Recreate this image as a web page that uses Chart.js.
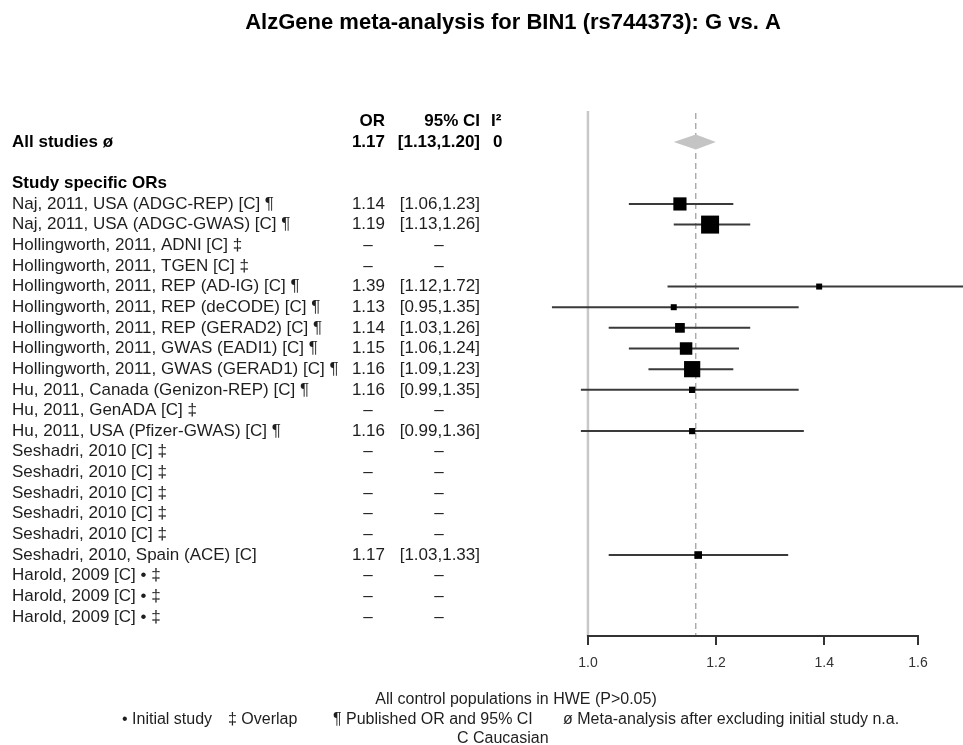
<!DOCTYPE html>
<html><head><meta charset="utf-8">
<script src="https://cdn.jsdelivr.net/npm/chart.js@4.4.1/dist/chart.umd.min.js"></script>
<style>html,body{margin:0;padding:0;background:#fff;} #c{display:block;}</style>
</head><body>
<canvas id="c" width="963" height="745"></canvas>
<script>
const chartTitle = "AlzGene meta-analysis for BIN1 (rs744373): G vs. A";
const studies = [
  "Naj, 2011, USA (ADGC-REP) [C] ¶",
  "Naj, 2011, USA (ADGC-GWAS) [C] ¶",
  "Hollingworth, 2011, ADNI [C] ‡",
  "Hollingworth, 2011, TGEN [C] ‡",
  "Hollingworth, 2011, REP (AD-IG) [C] ¶",
  "Hollingworth, 2011, REP (deCODE) [C] ¶",
  "Hollingworth, 2011, REP (GERAD2) [C] ¶",
  "Hollingworth, 2011, GWAS (EADI1) [C] ¶",
  "Hollingworth, 2011, GWAS (GERAD1) [C] ¶",
  "Hu, 2011, Canada (Genizon-REP) [C] ¶",
  "Hu, 2011, GenADA [C] ‡",
  "Hu, 2011, USA (Pfizer-GWAS) [C] ¶",
  "Seshadri, 2010 [C] ‡",
  "Seshadri, 2010 [C] ‡",
  "Seshadri, 2010 [C] ‡",
  "Seshadri, 2010 [C] ‡",
  "Seshadri, 2010 [C] ‡",
  "Seshadri, 2010, Spain (ACE) [C]",
  "Harold, 2009 [C] • ‡",
  "Harold, 2009 [C] • ‡",
  "Harold, 2009 [C] • ‡"
];
const orValues = [1.14, 1.19, null, null, 1.39, 1.13, 1.14, 1.15, 1.16, 1.16, null, 1.16, null, null, null, null, null, 1.17, null, null, null];
const ciLower  = [1.06, 1.13, null, null, 1.12, 0.95, 1.03, 1.06, 1.09, 0.99, null, 0.99, null, null, null, null, null, 1.03, null, null, null];
const ciUpper  = [1.23, 1.26, null, null, 1.72, 1.35, 1.26, 1.24, 1.23, 1.35, null, 1.36, null, null, null, null, null, 1.33, null, null, null];
const pooledLabel = "All studies ø";
const pooledOR = 1.166;
const pooledLower = 1.13;
const pooledUpper = 1.20;
const pooledI2 = "0";
const subheading = "Study specific ORs";
const columnHeaders = ["OR", "95% CI", "I²"];
const tickValues = [1.0, 1.2, 1.4, 1.6];
const tickLabels = ["1.0", "1.2", "1.4", "1.6"];
const footLine1 = "All control populations in HWE (P>0.05)";
const footLine2 = ["• Initial study", "‡ Overlap", "¶ Published OR and 95% CI", "ø Meta-analysis after excluding initial study n.a."];
const footLine3 = "C Caucasian";

// row indices on the y scale
const headerRow = -4, pooledRow = -3, subheadRow = -1;
const FONT = '"Liberation Sans", Arial, Helvetica, sans-serif';

function boxSide(lo, hi) {
  const se = (Math.log(hi) - Math.log(lo)) / 3.92;
  const w = 1 / (se * se);
  return Math.max(6, 0.5 * Math.sqrt(w));
}

const ciDatasets = [];
const pointData = [];
studies.forEach((s, i) => {
  if (orValues[i] == null) return;
  ciDatasets.push({
    label: s,
    data: [{x: ciLower[i], y: i}, {x: ciUpper[i], y: i}],
    showLine: true,
    borderColor: '#3a3a3a',
    borderWidth: 2,
    pointRadius: 0,
    order: 2
  });
  pointData.push({x: orValues[i], y: i, lo: ciLower[i], hi: ciUpper[i]});
});

const forestPlugin = {
  id: 'forest',
  beforeDatasetsDraw(chart) {
    const {ctx, chartArea, scales: {x}} = chart;
    ctx.save();
    // null line at OR = 1
    const x1 = x.getPixelForValue(1.0);
    ctx.strokeStyle = '#c8c8c8';
    ctx.lineWidth = 2.5;
    ctx.beginPath(); ctx.moveTo(x1, chartArea.top); ctx.lineTo(x1, chartArea.bottom); ctx.stroke();
    // dashed pooled line
    const xp = x.getPixelForValue(pooledOR);
    ctx.strokeStyle = '#9a9a9a';
    ctx.lineWidth = 1.2;
    ctx.setLineDash([6, 4]);
    ctx.beginPath(); ctx.moveTo(xp, chartArea.top + 2); ctx.lineTo(xp, chartArea.bottom); ctx.stroke();
    ctx.setLineDash([]);
    // pooled diamond
    const y = chart.scales.y.getPixelForValue(pooledRow);
    const xl = x.getPixelForValue(pooledLower), xr = x.getPixelForValue(pooledUpper);
    ctx.fillStyle = '#c4c4c4';
    ctx.beginPath();
    ctx.moveTo(xl, y); ctx.lineTo(xp, y - 7.5); ctx.lineTo(xr, y); ctx.lineTo(xp, y + 7.5); ctx.closePath();
    ctx.fill();
    // axis line from first to last tick
    ctx.strokeStyle = '#333';
    ctx.lineWidth = 2;
    ctx.beginPath();
    ctx.moveTo(x.getPixelForValue(tickValues[0]) - 1, chartArea.bottom);
    ctx.lineTo(x.getPixelForValue(tickValues[tickValues.length - 1]) + 1, chartArea.bottom);
    ctx.stroke();
    ctx.restore();
  },
  afterDraw(chart) {
    const {ctx, scales: {y}} = chart;
    ctx.save();
    ctx.textBaseline = 'middle';
    // title
    ctx.fillStyle = '#000';
    ctx.font = 'bold 22px ' + FONT;
    ctx.textAlign = 'center';
    ctx.fillText(chartTitle, 513, 23);
    // column headers
    ctx.font = 'bold 17px ' + FONT;
    let yy = y.getPixelForValue(headerRow);
    ctx.textAlign = 'right';
    ctx.fillText(columnHeaders[0], 385, yy);
    ctx.fillText(columnHeaders[1], 480, yy);
    ctx.textAlign = 'left';
    ctx.fillText(columnHeaders[2], 491, yy);
    // pooled row
    yy = y.getPixelForValue(pooledRow);
    ctx.fillText(pooledLabel, 12, yy);
    ctx.textAlign = 'right';
    ctx.fillText(pooledOR.toFixed(2), 385, yy);
    ctx.fillText('[' + pooledLower.toFixed(2) + ',' + pooledUpper.toFixed(2) + ']', 480, yy);
    ctx.textAlign = 'left';
    ctx.fillText(pooledI2, 493, yy);
    // subheading
    ctx.fillText(subheading, 12, y.getPixelForValue(subheadRow));
    // studies
    ctx.font = '17px ' + FONT;
    ctx.fillStyle = '#1e1e1e';
    studies.forEach((s, i) => {
      const py = y.getPixelForValue(i);
      ctx.textAlign = 'left';
      ctx.fillText(s, 12, py);
      if (orValues[i] != null) {
        ctx.textAlign = 'right';
        ctx.fillText(orValues[i].toFixed(2), 385, py);
        ctx.fillText('[' + ciLower[i].toFixed(2) + ',' + ciUpper[i].toFixed(2) + ']', 480, py);
      } else {
        ctx.textAlign = 'center';
        ctx.fillText('–', 368, py);
        ctx.fillText('–', 439, py);
      }
    });
    // footnotes
    ctx.font = '16px ' + FONT;
    ctx.fillStyle = '#1e1e1e';
    ctx.textAlign = 'center';
    ctx.fillText(footLine1, 516, 700);
    ctx.textAlign = 'left';
    const fx = [122, 228, 333, 563];
    footLine2.forEach((t, i) => ctx.fillText(t, fx[i], 720));
    ctx.fillText(footLine3, 457, 739);
    ctx.restore();
  }
};

new Chart(document.getElementById('c'), {
  type: 'scatter',
  data: {
    datasets: [
      {
        label: 'OR',
        data: pointData,
        pointStyle: 'rect',
        backgroundColor: '#000',
        borderWidth: 0,
        pointRadius: (c) => c.raw ? boxSide(c.raw.lo, c.raw.hi) / (2 * Math.SQRT1_2) : 0,
        pointHoverRadius: (c) => c.raw ? boxSide(c.raw.lo, c.raw.hi) / (2 * Math.SQRT1_2) : 0,
        order: 1
      },
      ...ciDatasets
    ]
  },
  options: {
    responsive: false,
    devicePixelRatio: 1,
    animation: false,
    events: [],
    layout: {autoPadding: false, padding: {left: 540, right: 0, top: 111, bottom: 69}},
    plugins: {legend: {display: false}, tooltip: {enabled: false}, title: {display: false}},
    scales: {
      x: {
        type: 'logarithmic',
        position: 'bottom',
        min: 0.934,
        max: 1.706,
        bounds: 'data',
        afterBuildTicks: (scale) => { scale.ticks = tickValues.map(v => ({value: v})); },
        afterFit: (scale) => {
          scale.height = 40;
          scale.paddingLeft = 0; scale.paddingRight = 0;
        },
        border: {display: false},
        grid: {drawOnChartArea: false, drawTicks: true, tickLength: 9, color: '#333', lineWidth: 2},
        ticks: {
          autoSkip: false, maxRotation: 0, padding: 10,
          color: '#333',
          font: {family: FONT, size: 14},
          callback: (v, i) => tickLabels[i]
        }
      },
      y: {
        type: 'linear',
        display: false,
        reverse: true,
        min: -4.5,
        max: 20.92
      }
    }
  },
  plugins: [forestPlugin]
});
</script>
</body></html>
